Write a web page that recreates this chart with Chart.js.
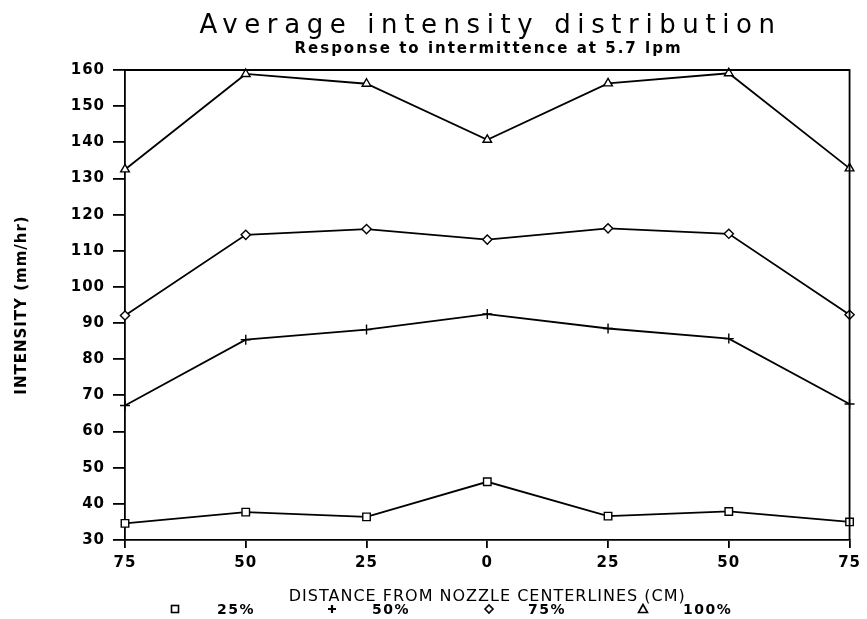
<!DOCTYPE html>
<html>
<head>
<meta charset="utf-8">
<script src="https://cdn.jsdelivr.net/npm/chart.js@4/dist/chart.umd.min.js"></script>
<style>
  html, body { margin: 0; padding: 0; background: #fff; }
  #wrap { position: relative; width: 867px; height: 619px; background: #fff; overflow: hidden; }
  #c { position: absolute; left: 0; top: 0; }
  .t { position: absolute; white-space: nowrap; color: #000; font-family: "DejaVu Sans", sans-serif; }
  #title { left: 57px; width: 867px; top: 9px; text-align: center; font-size: 26px; line-height: 30px; font-weight: normal; letter-spacing: 6.6px; }
  #subtitle { left: 55px; width: 867px; top: 39px; text-align: center; font-size: 15px; line-height: 18px; font-weight: bold; letter-spacing: 2px; }
  .leg { top: 601px; font-size: 14px; line-height: 16px; font-weight: bold; letter-spacing: 1.5px; }
  #legsym { position: absolute; left: 0; top: 0; }
</style>
</head>
<body>
<div id="wrap">
  <canvas id="c" width="867" height="619"></canvas>
  <div id="title" class="t"></div>
  <div id="subtitle" class="t"></div>
  <svg id="legsym" width="867" height="619"></svg>
</div>
<script>
// ---- data ----
const titleText = 'Average intensity distribution';
const subtitleText = 'Response to intermittence at 5.7 lpm';
const xAxisTitle = 'DISTANCE FROM NOZZLE CENTERLINES (CM)';
const yAxisTitle = 'INTENSITY (mm/hr)';
const categories = ['75', '50', '25', '0', '25', '50', '75'];
const seriesNames = ['25%', '50%', '75%', '100%'];
const series25 = [34.6, 37.7, 36.4, 46.1, 36.6, 37.9, 35.0];
const series50 = [67.2, 85.4, 88.2, 92.5, 88.5, 85.7, 67.6];
const series75 = [92.1, 114.4, 116.0, 113.1, 116.2, 114.7, 92.3];
const series100 = [132.5, 158.9, 156.2, 140.7, 156.3, 159.1, 132.8];
const yMin = 30, yMax = 160, yStep = 10;

document.getElementById('title').textContent = titleText;
document.getElementById('subtitle').textContent = subtitleText;

const pointStyles = ['rect', 'cross', 'rectRot', 'triangle'];
const pointRadii = [5.3, 5, 4.6, 5];
const allSeries = [series25, series50, series75, series100];

const datasets = allSeries.map((d, i) => ({
  label: seriesNames[i],
  data: d,
  borderColor: '#000',
  borderWidth: 1.8,
  tension: 0,
  fill: false,
  pointStyle: pointStyles[i],
  pointRadius: pointRadii[i],
  pointBorderWidth: 1.4,
  pointBorderColor: '#000',
  pointBackgroundColor: '#fff',
  clip: false
}));

const spacingPlugin = {
  id: 'spacing',
  beforeUpdate(chart) { chart.ctx.letterSpacing = '1px'; },
  beforeDraw(chart) { chart.ctx.letterSpacing = '1px'; }
};
const framePlugin = {
  id: 'frame',
  afterDatasetsDraw(chart) {
    const a = chart.chartArea, ctx = chart.ctx;
    ctx.save();
    ctx.strokeStyle = '#000';
    ctx.lineWidth = 1.8;
    ctx.beginPath();
    ctx.moveTo(a.left, a.top);
    ctx.lineTo(a.right, a.top);
    ctx.lineTo(a.right, a.bottom);
    ctx.stroke();
    ctx.restore();
  }
};

new Chart(document.getElementById('c'), {
  type: 'line',
  data: { labels: categories, datasets },
  plugins: [spacingPlugin, framePlugin],
  options: {
    responsive: false,
    animation: false,
    devicePixelRatio: 1,
    layout: { padding: { left: 0, right: 15, top: 70, bottom: 0 } },
    plugins: { legend: { display: false }, tooltip: { enabled: false }, title: { display: false } },
    scales: {
      x: {
        type: 'category',
        offset: false,
        afterFit(s) { s.height = 79; },
        grid: { drawOnChartArea: false, drawTicks: true, tickLength: 8, color: '#000', lineWidth: 1.8 },
        border: { display: true, color: '#000', width: 1.8 },
        ticks: { color: '#000', padding: 6, maxRotation: 0, autoSkip: false,
          font: { family: 'DejaVu Sans', size: 15, weight: 'bold' } },
        title: { display: true, text: xAxisTitle, color: '#000',
          font: { family: 'DejaVu Sans', size: 16, weight: 'normal' },
          padding: { top: 0, bottom: 13 } }
      },
      y: {
        min: yMin, max: yMax,
        afterFit(s) { s.width = 125; },
        grid: { drawOnChartArea: false, drawTicks: true, tickLength: 12, color: '#000', lineWidth: 1.8 },
        border: { display: true, color: '#000', width: 1.8 },
        ticks: { stepSize: yStep, color: '#000', padding: 8,
          font: { family: 'DejaVu Sans', size: 15, weight: 'bold' } },
        title: { display: true, text: yAxisTitle, color: '#000',
          font: { family: 'DejaVu Sans', size: 15, weight: 'bold' },
          padding: { top: 13, bottom: 0 } }
      }
    }
  }
});

// ---- legend (HTML/SVG) ----
const legSymX = [175, 332, 489, 643];
const legTextX = [217, 372, 528, 683];
const legY = 609;
const svg = document.getElementById('legsym');
const NS = 'http://www.w3.org/2000/svg';
function mk(tag, attrs) { const e = document.createElementNS(NS, tag); e.setAttribute('fill', 'none'); e.setAttribute('stroke', '#000'); e.setAttribute('stroke-width', '1.6'); for (const k in attrs) e.setAttribute(k, attrs[k]); svg.appendChild(e); }
seriesNames.forEach((name, i) => {
  const x = legSymX[i], y = legY;
  if (pointStyles[i] === 'rect') mk('rect', { x: x - 3.5, y: y - 3.5, width: 7, height: 7 });
  else if (pointStyles[i] === 'cross') mk('path', { d: `M${x-4},${y} L${x+4},${y} M${x},${y-4} L${x},${y+4}`, 'stroke-width': 2.2 });
  else if (pointStyles[i] === 'rectRot') mk('path', { d: `M${x-4},${y} L${x},${y-4} L${x+4},${y} L${x},${y+4} Z` });
  else mk('path', { d: `M${x},${y-4.5} L${x+4.5},${y+3.5} L${x-4.5},${y+3.5} Z` });
  const d = document.createElement('div');
  d.className = 't leg';
  d.style.left = legTextX[i] + 'px';
  d.textContent = name;
  document.getElementById('wrap').appendChild(d);
});
</script>
</body>
</html>
